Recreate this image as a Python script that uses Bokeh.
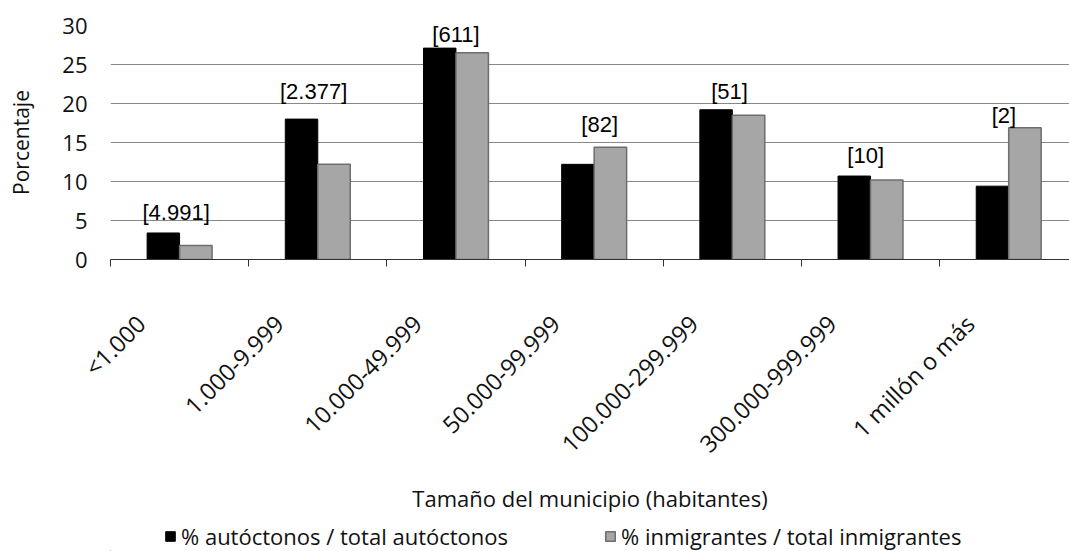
import math
from bokeh.plotting import figure
from bokeh.layouts import column
from bokeh.models import ColumnDataSource, FixedTicker, Range1d, Legend, LegendItem
from bokeh.core.properties import value
from bokeh.embed import file_html
from bokeh.resources import INLINE

# ---- data ----
categories = ["<1.000", "1.000-9.999", "10.000-49.999", "50.000-99.999",
              "100.000-299.999", "300.000-999.999", "1 millón o más"]
autoctonos = [3.4, 18.0, 27.1, 12.2, 19.2, 10.7, 9.4]
inmigrantes = [1.8, 12.2, 26.5, 14.4, 18.5, 10.2, 16.9]
municipios = ["[4.991]", "[2.377]", "[611]", "[82]", "[51]", "[10]", "[2]"]
label_y = [6.06, 21.6, 28.9, 17.3, 21.55, 13.3, 18.5]
label_dx = [-0.025, -0.03, 0.0, 0.04, -0.02, -0.035, -0.035]
y_ticks = [0, 5, 10, 15, 20, 25, 30]
series_names = ["% autóctonos / total autóctonos", "% inmigrantes / total inmigrantes"]

idx = list(range(len(categories)))
bw = 0.235

src_a = ColumnDataSource(dict(x=[i - bw / 2 for i in idx], top=autoctonos))
src_i = ColumnDataSource(dict(x=[i + bw / 2 for i in idx], top=inmigrantes))
src_l = ColumnDataSource(dict(x=[i + d for i, d in zip(idx, label_dx)], y=label_y, text=municipios))

FONT = "Open Sans"
TXT = "#111111"
BLACK_STYLE = dict(fill_color="black", line_color="black", line_width=1)
GRAY_STYLE = dict(fill_color="#a6a6a6", line_color="#6e6e6e", line_width=1.5)

p = figure(width=1069, height=520, output_backend="svg", toolbar_location=None,
           x_range=Range1d(-0.5, 6.44), y_range=Range1d(0, 30),
           min_border_left=110, min_border_top=25, min_border_bottom=261,
           min_border_right=0)
p.outline_line_color = None
p.background_fill_color = "white"
p.border_fill_color = "white"

r1 = p.vbar(x="x", top="top", width=bw, bottom=0, source=src_a, **BLACK_STYLE)
r2 = p.vbar(x="x", top="top", width=bw, bottom=0, source=src_i, **GRAY_STYLE)

p.text(x="x", y="y", text="text", source=src_l, text_align="center",
       text_baseline="middle", text_font=value("Liberation Sans"),
       text_font_size="22px", text_color="black")

# grid
p.xgrid.grid_line_color = None
p.ygrid.ticker = FixedTicker(ticks=y_ticks)
p.ygrid.grid_line_color = "#888888"
p.ygrid.grid_line_width = 1

# y axis
p.yaxis.ticker = FixedTicker(ticks=y_ticks)
p.yaxis.axis_line_color = None
p.yaxis.major_tick_line_color = None
p.yaxis.minor_tick_line_color = None
p.yaxis.major_tick_out = 0
p.yaxis.major_label_standoff = 23
p.yaxis.major_label_text_font = FONT
p.yaxis.major_label_text_font_size = "22px"
p.yaxis.major_label_text_color = TXT
p.yaxis.axis_label = "Porcentaje"
p.yaxis.axis_label_text_font = FONT
p.yaxis.axis_label_text_font_size = "21px"
p.yaxis.axis_label_text_font_style = "normal"
p.yaxis.axis_label_text_color = TXT
p.yaxis.axis_label_standoff = 24

# x axis
label_ticks = [i - 0.28 for i in idx]
p.xaxis.ticker = FixedTicker(ticks=label_ticks, minor_ticks=[i - 0.5 for i in range(len(idx) + 1)])
p.xaxis.major_label_overrides = {t: c for t, c in zip(label_ticks, categories)}
p.xaxis.major_label_orientation = math.pi / 4
p.xaxis.major_tick_line_color = None
p.xaxis.major_tick_out = 0
p.xaxis.major_tick_in = 0
p.xaxis.minor_tick_out = 7
p.xaxis.minor_tick_in = 0
p.xaxis.minor_tick_line_color = "#333333"
p.xaxis.axis_line_color = "#333333"
p.xaxis.major_label_standoff = 53
p.xaxis.major_label_text_font = FONT
p.xaxis.major_label_text_font_size = "23.5px"
p.xaxis.major_label_text_color = TXT
p.xaxis.axis_label = "Tamaño del municipio (habitantes)"
p.xaxis.axis_label_text_font = FONT
p.xaxis.axis_label_text_font_size = "22px"
p.xaxis.axis_label_text_font_style = "normal"
p.xaxis.axis_label_text_color = TXT
p.xaxis.axis_label_standoff = 10

# ---- legend strip (zero-height copies of the series, out of view; only the legend shows) ----
pl = figure(width=1069, height=31, output_backend="svg", toolbar_location=None,
            x_axis_location=None, y_axis_location=None,
            x_range=Range1d(100, 101), y_range=Range1d(100, 101),
            min_border=0, min_border_left=0, min_border_right=0,
            min_border_top=0, min_border_bottom=0)
pl.outline_line_color = None
pl.xgrid.visible = False
pl.ygrid.visible = False
l1 = pl.vbar(x="x", top="top", bottom="top", width=0.001, source=src_a, **BLACK_STYLE)
l2 = pl.vbar(x="x", top="top", bottom="top", width=0.001, source=src_i, **GRAY_STYLE)
legend = Legend(items=[LegendItem(label=series_names[0], renderers=[l1], index=0),
                       LegendItem(label=series_names[1], renderers=[l2], index=0)],
                location=(54, 0), orientation="horizontal",
                glyph_width=12, glyph_height=12, label_standoff=5, spacing=96,
                padding=0, margin=0, border_line_color=None, background_fill_alpha=0,
                label_text_font=FONT, label_text_font_size="22px",
                label_text_color=TXT)
pl.add_layout(legend)

open("out.html", "w").write(file_html(column(p, pl, spacing=0), INLINE))
